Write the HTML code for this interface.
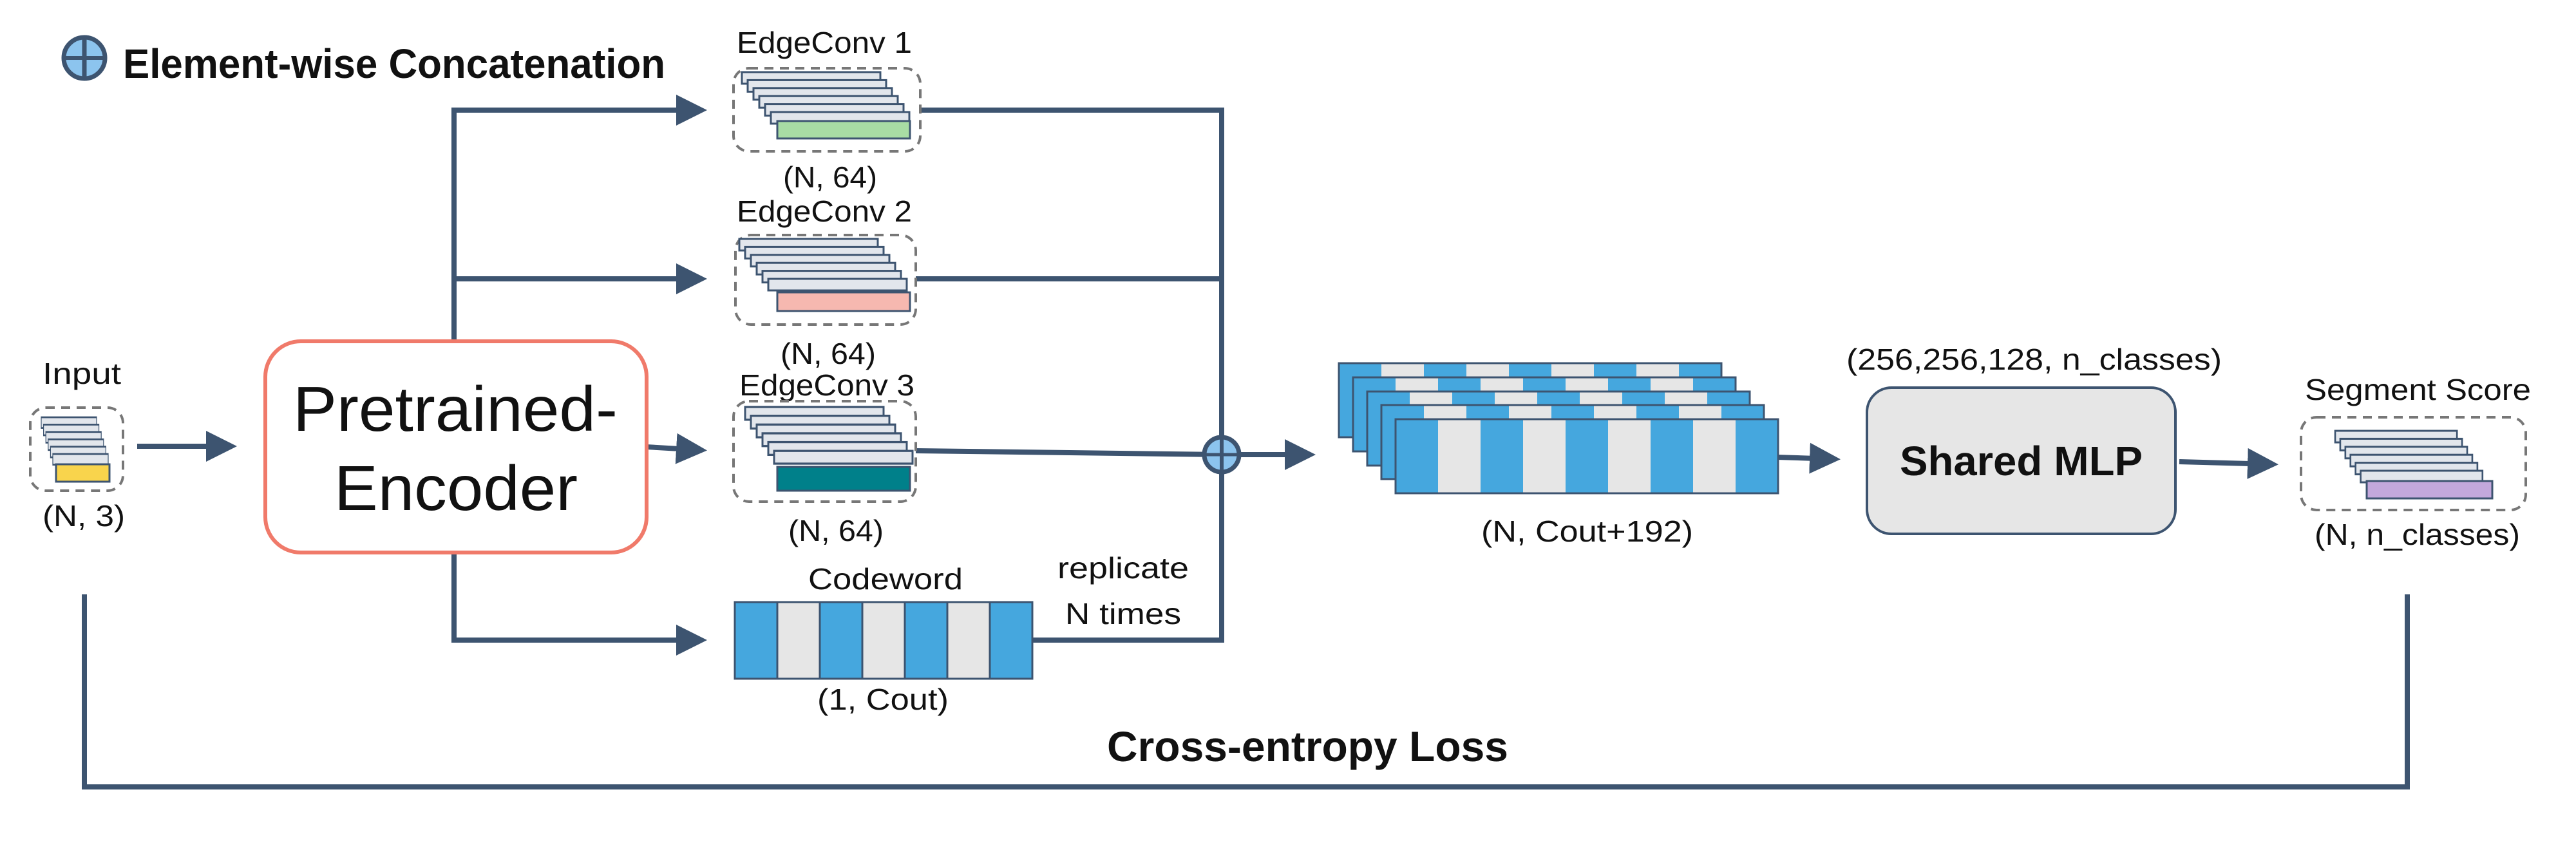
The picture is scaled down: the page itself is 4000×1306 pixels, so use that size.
<!DOCTYPE html>
<html><head><meta charset="utf-8"><style>
html,body{margin:0;padding:0;background:#fff;overflow:hidden;}
svg{display:block;}
text{font-family:"Liberation Sans",sans-serif;fill:#111;}
</style></head><body>
<svg width="4000" height="1306" viewBox="0 0 4000 1306" xmlns="http://www.w3.org/2000/svg">
<defs>
<marker id="ah" markerWidth="6" markerHeight="6" refX="5" refY="3" orient="auto" markerUnits="strokeWidth">
<path d="M0,0 L6,3 L0,6 z" fill="#3d5470"/>
</marker>
<g id="stk">
<rect x="0" y="0" width="215" height="18" fill="#e2e6ec" stroke="#3d5470" stroke-width="3"/>
<rect x="9" y="12.4" width="215" height="18" fill="#e2e6ec" stroke="#3d5470" stroke-width="3"/>
<rect x="18" y="24.8" width="215" height="18" fill="#e2e6ec" stroke="#3d5470" stroke-width="3"/>
<rect x="27" y="37.2" width="215" height="18" fill="#e2e6ec" stroke="#3d5470" stroke-width="3"/>
<rect x="36" y="49.6" width="215" height="18" fill="#e2e6ec" stroke="#3d5470" stroke-width="3"/>
<rect x="45" y="62" width="215" height="18" fill="#e2e6ec" stroke="#3d5470" stroke-width="3"/>
</g>
<g id="cells">
<rect x="0" y="0" width="66" height="115" fill="#45a7de"/>
<rect x="66" y="0" width="66" height="115" fill="#e6e6e6"/>
<rect x="132" y="0" width="66" height="115" fill="#45a7de"/>
<rect x="198" y="0" width="66" height="115" fill="#e6e6e6"/>
<rect x="264" y="0" width="66" height="115" fill="#45a7de"/>
<rect x="330" y="0" width="66" height="115" fill="#e6e6e6"/>
<rect x="396" y="0" width="66" height="115" fill="#45a7de"/>
<rect x="462" y="0" width="66" height="115" fill="#e6e6e6"/>
<rect x="528" y="0" width="66" height="115" fill="#45a7de"/>
<rect x="0" y="0" width="594" height="115" fill="none" stroke="#3d5470" stroke-width="3"/>
</g>
</defs>

<!-- legend -->
<circle cx="131" cy="90" r="32" fill="#8cc4ee" stroke="#3d5470" stroke-width="7"/>
<line x1="131" y1="58" x2="131" y2="122" stroke="#3d5470" stroke-width="7"/>
<line x1="99" y1="90" x2="163" y2="90" stroke="#3d5470" stroke-width="6"/>
<text x="191" y="121" font-size="64" font-weight="bold" textLength="842" lengthAdjust="spacingAndGlyphs">Element-wise Concatenation</text>

<!-- connectors -->
<g stroke="#3d5470" stroke-width="8" fill="none">
<line x1="213" y1="693" x2="360" y2="693" marker-end="url(#ah)"/>
<polyline points="705,530 705,171 1090,171" marker-end="url(#ah)"/>
<line x1="705" y1="433" x2="1090" y2="433" marker-end="url(#ah)"/>
<polyline points="705,858 705,994 1090,994" marker-end="url(#ah)"/>
<line x1="1004" y1="694" x2="1090" y2="699" marker-end="url(#ah)"/>
<polyline points="1429,171 1897,171 1897,994 1603,994"/>
<line x1="1422" y1="433" x2="1897" y2="433"/>
<line x1="1422" y1="700" x2="1897" y2="706"/>
<line x1="1925" y1="706" x2="2035" y2="706" marker-end="url(#ah)"/>
<line x1="2760" y1="710" x2="2850" y2="713" marker-end="url(#ah)"/>
<line x1="3384" y1="717" x2="3530" y2="721" marker-end="url(#ah)"/>
<polyline points="131,923 131,1222 3738,1222 3738,923"/>
</g>
<circle cx="1897" cy="706" r="27" fill="#8cc4ee" stroke="#3d5470" stroke-width="7"/>
<line x1="1897" y1="679" x2="1897" y2="733" stroke="#3d5470" stroke-width="6"/>
<line x1="1870" y1="706" x2="1924" y2="706" stroke="#3d5470" stroke-width="5"/>

<!-- input -->
<text x="66" y="596" font-size="46" textLength="122" lengthAdjust="spacingAndGlyphs">Input</text>
<rect x="47" y="633" width="144" height="129" rx="24" fill="none" stroke="#777" stroke-width="4" stroke-dasharray="14,10"/>
<g transform="translate(64,648) scale(0.4,0.92)"><use href="#stk"/></g>
<rect x="87" y="721" width="83" height="27" fill="#f9d44c" stroke="#3d5470" stroke-width="3"/>
<text x="66" y="817" font-size="46" textLength="128" lengthAdjust="spacingAndGlyphs">(N, 3)</text>

<!-- encoder -->
<rect x="412" y="530" width="592" height="328" rx="55" fill="#fff" stroke="#f07a6a" stroke-width="6"/>
<text x="455" y="669" font-size="98" textLength="504" lengthAdjust="spacingAndGlyphs">Pretrained-</text>
<text x="519" y="792" font-size="98" textLength="378" lengthAdjust="spacingAndGlyphs">Encoder</text>

<!-- EC1 -->
<text x="1144" y="82" font-size="46" textLength="272" lengthAdjust="spacingAndGlyphs">EdgeConv 1</text>
<rect x="1139" y="106" width="290" height="129" rx="24" fill="none" stroke="#777" stroke-width="4" stroke-dasharray="14,10"/>
<use href="#stk" x="1152" y="112"/>
<rect x="1207" y="188" width="206" height="27" fill="#a8dca4" stroke="#3d5470" stroke-width="3"/>
<text x="1216" y="291" font-size="46" textLength="146" lengthAdjust="spacingAndGlyphs">(N, 64)</text>

<!-- EC2 -->
<text x="1144" y="344" font-size="46" textLength="272" lengthAdjust="spacingAndGlyphs">EdgeConv 2</text>
<rect x="1142" y="365" width="280" height="139" rx="24" fill="none" stroke="#777" stroke-width="4" stroke-dasharray="14,10"/>
<use href="#stk" x="1148" y="371"/>
<rect x="1207" y="454" width="206" height="29" fill="#f6b8b0" stroke="#3d5470" stroke-width="3"/>
<text x="1212" y="565" font-size="46" textLength="148" lengthAdjust="spacingAndGlyphs">(N, 64)</text>

<!-- EC3 -->
<text x="1148" y="614" font-size="46" textLength="272" lengthAdjust="spacingAndGlyphs">EdgeConv 3</text>
<rect x="1139" y="623" width="283" height="156" rx="24" fill="none" stroke="#777" stroke-width="4" stroke-dasharray="14,10"/>
<g transform="translate(1157,632) scale(1,1.1)"><use href="#stk"/></g>
<rect x="1207" y="725" width="206" height="37" fill="#00808a" stroke="#3d5470" stroke-width="3"/>
<text x="1224" y="840" font-size="46" textLength="148" lengthAdjust="spacingAndGlyphs">(N, 64)</text>

<!-- codeword -->
<text x="1255" y="915" font-size="46" textLength="240" lengthAdjust="spacingAndGlyphs">Codeword</text>
<g stroke="#3d5470" stroke-width="3">
<rect x="1141" y="935" width="66" height="119" fill="#45a7de"/>
<rect x="1207" y="935" width="66" height="119" fill="#e6e6e6"/>
<rect x="1273" y="935" width="66" height="119" fill="#45a7de"/>
<rect x="1339" y="935" width="66" height="119" fill="#e6e6e6"/>
<rect x="1405" y="935" width="66" height="119" fill="#45a7de"/>
<rect x="1471" y="935" width="66" height="119" fill="#e6e6e6"/>
<rect x="1537" y="935" width="66" height="119" fill="#45a7de"/>
</g>
<text x="1269" y="1102" font-size="46" textLength="204" lengthAdjust="spacingAndGlyphs">(1, Cout)</text>
<text x="1642" y="898" font-size="46" textLength="204" lengthAdjust="spacingAndGlyphs">replicate</text>
<text x="1654" y="969" font-size="46" textLength="180" lengthAdjust="spacingAndGlyphs">N times</text>

<!-- big block -->
<use href="#cells" x="2079" y="564"/>
<use href="#cells" x="2101" y="586"/>
<use href="#cells" x="2123" y="608"/>
<use href="#cells" x="2145" y="629"/>
<use href="#cells" x="2167" y="651"/>
<text x="2300" y="841" font-size="46" textLength="329" lengthAdjust="spacingAndGlyphs">(N, Cout+192)</text>

<!-- shared MLP -->
<text x="2867" y="574" font-size="46" textLength="583" lengthAdjust="spacingAndGlyphs">(256,256,128, n_classes)</text>
<rect x="2899" y="602" width="479" height="227" rx="38" fill="#e6e6e6" stroke="#3d5470" stroke-width="4"/>
<text x="2950" y="738" font-size="64" font-weight="bold" textLength="377" lengthAdjust="spacingAndGlyphs">Shared MLP</text>

<!-- segment score -->
<text x="3579" y="621" font-size="46" textLength="351" lengthAdjust="spacingAndGlyphs">Segment Score</text>
<rect x="3573" y="648" width="349" height="144" rx="24" fill="none" stroke="#777" stroke-width="4" stroke-dasharray="14,10"/>
<g transform="translate(3626,669) scale(0.88,1)"><use href="#stk"/></g>
<rect x="3675" y="747" width="195" height="27" fill="#c3a8dc" stroke="#3d5470" stroke-width="3"/>
<text x="3594" y="846" font-size="46" textLength="319" lengthAdjust="spacingAndGlyphs">(N, n_classes)</text>

<text x="1719" y="1182" font-size="66" font-weight="bold" textLength="623" lengthAdjust="spacingAndGlyphs">Cross-entropy Loss</text>
</svg>
</body></html>
